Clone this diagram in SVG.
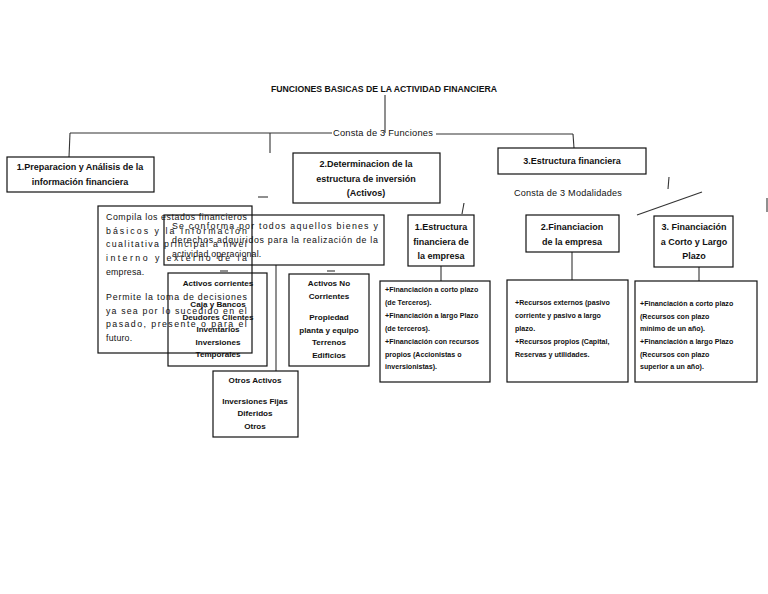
<svg xmlns="http://www.w3.org/2000/svg" width="768" height="594" viewBox="0 0 768 594">
<style>
text{font-family:"Liberation Sans",Arial,sans-serif;fill:#111}
.t{font-size:8.7px;font-weight:bold}
.h{font-size:9px;font-weight:bold;text-anchor:middle}
.p{font-size:8.8px;letter-spacing:0.2px}
.b{font-size:8.1px;font-weight:bold;text-anchor:middle}
.s{font-size:7.1px;font-weight:bold}
.box{fill:none;stroke:#111;stroke-width:1.2}
.ln{stroke:#333;stroke-width:1.1;fill:none}
</style>
<rect width="768" height="594" fill="#fff"/>
<text class="t" x="384" y="92" text-anchor="middle">FUNCIONES BASICAS DE LA ACTIVIDAD FINANCIERA</text>
<g id="connectors">
<line class="ln" x1="385" y1="95" x2="385" y2="133"/>
<line class="ln" x1="70" y1="133" x2="332" y2="133"/>
<line class="ln" x1="436" y1="134" x2="573" y2="134"/>
<line class="ln" x1="70" y1="133" x2="69" y2="157"/>
<line class="ln" x1="270" y1="133" x2="270" y2="153"/>
<line class="ln" x1="573" y1="134" x2="574" y2="148"/>
<line class="ln" x1="258" y1="197" x2="268" y2="197"/>
<line class="ln" x1="464" y1="203" x2="462" y2="214"/>
<line class="ln" x1="669" y1="177" x2="668" y2="189"/>
<line class="ln" x1="637" y1="215" x2="702" y2="192"/>
<line class="ln" x1="767" y1="198" x2="767" y2="212"/>
<line class="ln" x1="441" y1="266" x2="441" y2="281"/>
<line class="ln" x1="572" y1="252" x2="572" y2="280"/>
<line class="ln" x1="699" y1="267" x2="699" y2="281"/>
<line class="ln" x1="220" y1="271" x2="228" y2="271"/>
<line class="ln" x1="327" y1="271" x2="335" y2="271"/>
<line class="ln" x1="276" y1="265" x2="276" y2="371"/>
</g>
<text class="p" x="333" y="136" textLength="100" lengthAdjust="spacingAndGlyphs">Consta de 3 Funciones</text>
<text class="p" x="514" y="196" textLength="108" lengthAdjust="spacingAndGlyphs">Consta de 3 Modalidades</text>
<g id="n1">
<rect class="box" x="7" y="157" width="147" height="35"/>
<text class="h" x="80" y="170">1.Preparacion y Análisis de la</text>
<text class="h" x="80" y="185">información financiera</text>
</g>
<g id="n2">
<rect class="box" x="293" y="153" width="147" height="50"/>
<text class="h" x="366" y="167">2.Determinacion de la</text>
<text class="h" x="366" y="182">estructura de inversión</text>
<text class="h" x="366" y="196">(Activos)</text>
</g>
<g id="n3">
<rect class="box" x="498" y="148" width="148" height="26"/>
<text class="h" x="572" y="164">3.Estructura financiera</text>
</g>
<g id="compila">
<rect class="box" x="98" y="206" width="154" height="147"/>
<text class="p" x="106" y="220" textLength="141" lengthAdjust="spacing">Compila los estados financieros</text>
<text class="p" x="106" y="234" textLength="141" lengthAdjust="spacing">básicos y la información</text>
<text class="p" x="106" y="247" textLength="141" lengthAdjust="spacing">cualitativa principal a nivel</text>
<text class="p" x="106" y="261" textLength="141" lengthAdjust="spacing">interno y externo de la</text>
<text class="p" x="106" y="275">empresa.</text>
<text class="p" x="106" y="300" textLength="141" lengthAdjust="spacing">Permite la toma de decisiones</text>
<text class="p" x="106" y="314" textLength="141" lengthAdjust="spacing">ya sea por lo sucedido en el</text>
<text class="p" x="106" y="327" textLength="141" lengthAdjust="spacing">pasado, presente o para el</text>
<text class="p" x="106" y="341">futuro.</text>
</g>
<g id="conforma">
<rect class="box" x="164" y="215" width="220" height="50"/>
<text class="p" x="172" y="229" textLength="206" lengthAdjust="spacing">Se conforma por todos aquellos bienes y</text>
<text class="p" x="172" y="243" textLength="206" lengthAdjust="spacing">derechos adquiridos para la realización de la</text>
<text class="p" x="172" y="257">actividad operacional.</text>
</g>
<g id="corrientes">
<rect class="box" x="168" y="273" width="99" height="93"/>
<text class="b" x="218" y="286">Activos corrientes</text>
<text class="b" x="218" y="307">Caja y Bancos</text>
<text class="b" x="218" y="320">Deudores Clientes</text>
<text class="b" x="218" y="332">Inventarios</text>
<text class="b" x="218" y="345">Inversiones</text>
<text class="b" x="218" y="357">Temporales</text>
</g>
<g id="nocorrientes">
<rect class="box" x="289" y="274" width="80" height="92"/>
<text class="b" x="329" y="286">Activos No</text>
<text class="b" x="329" y="299">Corrientes</text>
<text class="b" x="329" y="320">Propiedad</text>
<text class="b" x="329" y="333">planta y equipo</text>
<text class="b" x="329" y="345">Terrenos</text>
<text class="b" x="329" y="358">Edificios</text>
</g>
<g id="otros">
<rect class="box" x="213" y="371" width="85" height="66"/>
<text class="b" x="255" y="383">Otros Activos</text>
<text class="b" x="255" y="404">Inversiones Fijas</text>
<text class="b" x="255" y="416">Diferidos</text>
<text class="b" x="255" y="429">Otros</text>
</g>
<g id="m1">
<rect class="box" x="408" y="215" width="66" height="51"/>
<text class="h" x="441" y="230">1.Estructura</text>
<text class="h" x="441" y="245">financiera de</text>
<text class="h" x="441" y="259">la empresa</text>
</g>
<g id="m1d">
<rect class="box" x="380" y="281" width="110" height="101"/>
<text class="s" x="385" y="292">+Financiación a corto plazo</text>
<text class="s" x="385" y="305">(de Terceros).</text>
<text class="s" x="385" y="318">+Financiación a largo Plazo</text>
<text class="s" x="385" y="331">(de terceros).</text>
<text class="s" x="385" y="344">+Financiación con recursos</text>
<text class="s" x="385" y="357">propios (Accionistas o</text>
<text class="s" x="385" y="369">inversionistas).</text>
</g>
<g id="m2">
<rect class="box" x="526" y="215" width="93" height="37"/>
<text class="h" x="572" y="230">2.Financiacion</text>
<text class="h" x="572" y="245">de la empresa</text>
</g>
<g id="m2d">
<rect class="box" x="507" y="280" width="121" height="102"/>
<text class="s" x="515" y="305">+Recursos externos (pasivo</text>
<text class="s" x="515" y="318">corriente y pasivo a largo</text>
<text class="s" x="515" y="331">plazo.</text>
<text class="s" x="515" y="344">+Recursos propios (Capital,</text>
<text class="s" x="515" y="357">Reservas y utilidades.</text>
</g>
<g id="m3">
<rect class="box" x="654" y="216" width="79" height="51"/>
<text class="h" x="694" y="230">3. Financiación</text>
<text class="h" x="694" y="245">a Corto y Largo</text>
<text class="h" x="694" y="259">Plazo</text>
</g>
<g id="m3d">
<rect class="box" x="635" y="281" width="122" height="101"/>
<text class="s" x="640" y="306">+Financiación a corto plazo</text>
<text class="s" x="640" y="319">(Recursos con plazo</text>
<text class="s" x="640" y="331">mínimo de un año).</text>
<text class="s" x="640" y="344">+Financiación a largo Plazo</text>
<text class="s" x="640" y="357">(Recursos con plazo</text>
<text class="s" x="640" y="369">superior a un año).</text>
</g>
</svg>
